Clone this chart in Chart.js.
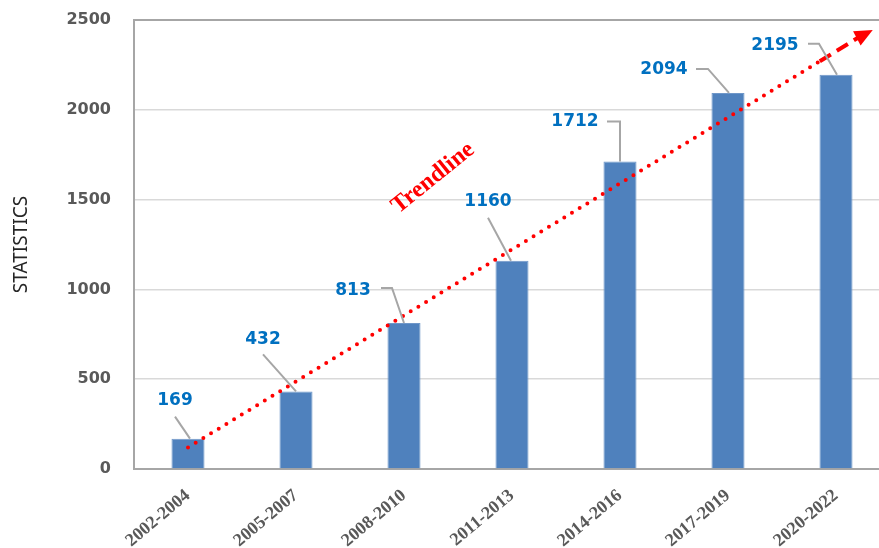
<!DOCTYPE html>
<html>
<head>
<meta charset="utf-8">
<script src="https://cdn.jsdelivr.net/npm/chart.js@4"></script>
<style>
html, body { margin: 0; padding: 0; background: #fff; overflow: hidden; }
</style>
</head>
<body>
<canvas id="grafica" width="890" height="548"></canvas>
<script>
// Datos
const periodos = ['2002-2004', '2005-2007', '2008-2010', '2011-2013', '2014-2016', '2017-2019', '2020-2022'];
const estadisticas = [169, 432, 813, 1160, 1712, 2094, 2195];
const ticksY = [0, 500, 1000, 1500, 2000, 2500];
// Línea de tendencia (x = índice de categoría): tramo punteado, tramo discontinuo y punta
const tendenciaX = [0, 5.85, 6.2, 6.34];
const tendenciaY = [120, 2270, 2400, 2445];

/**
 * Posición de cada etiqueta y su línea guía, relativa a la parte superior de la barra
 */
const guias = [
    { tx: -13, ty: -38, pts: [[-13, -22], [2, 0]] },
    { tx: -33, ty: -52, pts: [[-33, -37], [0, 0]] },
    { tx: -51, ty: -32, pts: [[-23, -35], [-12, -35], [0, 0]] },
    { tx: -24, ty: -59, pts: [[-24, -43], [-1, 0]] },
    { tx: -45, ty: -40, pts: [[-13, -40], [0, -40], [0, 0]] },
    { tx: -64, ty: -23, pts: [[-32, -24], [-20, -24], [1, 0]] },
    { tx: -61, ty: -29, pts: [[-28, -31], [-17, -31], [1, 0]] }
];

// Etiquetas de datos con línea guía
const etiquetas = {
    id: 'etiquetas',
    afterDatasetsDraw(chart) {
        const c = chart.ctx;
        const barras = chart.getDatasetMeta(0).data;
        c.save();
        barras.forEach((b, i) => {
            const g = guias[i];
            c.strokeStyle = '#A6A6A6';
            c.lineWidth = 2;
            c.beginPath();
            g.pts.forEach((p, k) => {
                if (k === 0) c.moveTo(b.x + p[0], b.y + p[1]);
                else c.lineTo(b.x + p[0], b.y + p[1]);
            });
            c.stroke();
            c.fillStyle = '#0070C0';
            c.font = 'bold 17px "DejaVu Sans"';
            c.textAlign = 'center';
            c.textBaseline = 'middle';
            c.fillText(estadisticas[i], b.x + g.tx, b.y + g.ty);
        });
        c.restore();
    }
};

// Punta de flecha y texto "Trendline"
const flecha = {
    id: 'flecha',
    afterDatasetsDraw(chart) {
        const c = chart.ctx;
        const sx = chart.scales.x, sy = chart.scales.y;
        const n = tendenciaX.length;
        const x0 = sx.getPixelForValue(tendenciaX[n - 2]), y0 = sy.getPixelForValue(tendenciaY[n - 2]);
        const x1 = sx.getPixelForValue(tendenciaX[n - 1]), y1 = sy.getPixelForValue(tendenciaY[n - 1]);
        const ang = Math.atan2(y1 - y0, x1 - x0);
        c.save();
        c.fillStyle = '#FF0000';
        c.translate(x1, y1);
        c.rotate(ang);
        c.beginPath();
        c.moveTo(0, 0);
        c.lineTo(-18, -8);
        c.lineTo(-18, 8);
        c.closePath();
        c.fill();
        c.restore();

        c.save();
        c.translate(sx.getPixelForValue(2.27), sy.getPixelForValue(1620));
        c.rotate(-39 * Math.PI / 180);
        c.fillStyle = '#FF0000';
        c.font = 'bold 24px "Liberation Serif"';
        c.textAlign = 'center';
        c.textBaseline = 'middle';
        c.fillText('Trendline', 0, 0);
        c.restore();
    }
};

const ctx = document.getElementById('grafica');
new Chart(ctx, {
    type: 'bar',
    data: {
        datasets: [{
            type: 'bar',
            data: estadisticas.map((v, i) => ({ x: i, y: v })),
            backgroundColor: '#4F81BD',
            borderColor: '#6F97C9',
            borderWidth: 1,
            barPercentage: 0.306,
            categoryPercentage: 1,
            order: 2
        }, {
            type: 'line',
            data: tendenciaX.slice(0, 2).map((x, i) => ({ x: x, y: tendenciaY[i] })),
            borderColor: '#FF0000',
            borderWidth: 4,
            borderDash: [0, 9],
            borderCapStyle: 'round',
            pointRadius: 0,
            order: 1
        }, {
            type: 'line',
            data: tendenciaX.slice(1, 3).map((x, i) => ({ x: x, y: tendenciaY[i + 1] })),
            borderColor: '#FF0000',
            borderWidth: 4,
            borderDash: [13, 7],
            pointRadius: 0,
            order: 1
        }]
    },
    options: {
        responsive: false,
        animation: false,
        layout: { padding: { top: 20, left: 0, right: 0, bottom: 0 } },
        scales: {
            x: {
                type: 'linear',
                offset: false,
                min: -0.5,
                max: 6.5,
                grid: { display: false },
                border: { color: '#A6A6A6', width: 2 },
                afterFit: (s) => { s.height = 79; },
                afterBuildTicks: (s) => { s.ticks = periodos.map((p, i) => ({ value: i })); },
                ticks: {
                    color: '#595959',
                    font: { family: 'Liberation Serif', weight: 'bold', size: 18 },
                    minRotation: 40,
                    maxRotation: 40,
                    padding: 8,
                    callback: (v) => periodos[v]
                }
            },
            y: {
                min: 0,
                max: 2500,
                afterFit: (s) => { s.width = 134; s.paddingTop = 0; s.paddingBottom = 0; },
                afterBuildTicks: (s) => { s.ticks = ticksY.map(v => ({ value: v })); },
                border: { color: '#A6A6A6', width: 2 },
                grid: {
                    drawTicks: false,
                    color: (c) => c.tick && c.tick.value === 2500 ? '#A6A6A6' : '#D9D9D9',
                    lineWidth: (c) => c.tick && c.tick.value === 2500 ? 2 : 1.5
                },
                ticks: {
                    color: '#595959',
                    font: { family: 'DejaVu Sans', weight: 'bold', size: 16 },
                    padding: 23,
                    callback: (v) => String(v)
                },
                title: {
                    display: true,
                    text: 'STATISTICS',
                    color: '#262626',
                    font: { family: 'Noto Sans', size: 19 },
                    padding: { top: 10, bottom: 0 }
                }
            }
        },
        plugins: {
            legend: { display: false },
            tooltip: { enabled: false }
        }
    },
    plugins: [etiquetas, flecha]
});
</script>
</body>
</html>
